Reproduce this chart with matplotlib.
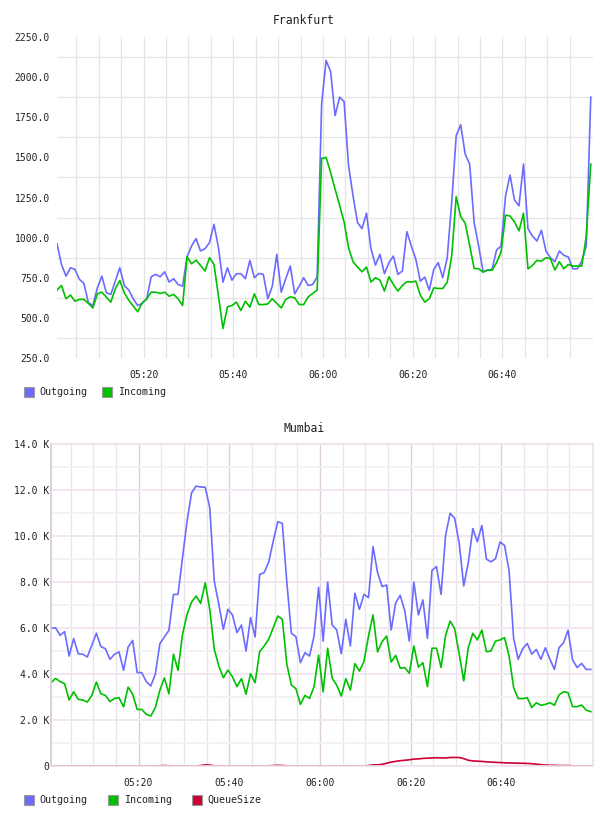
"""Frankfurt / Mumbai traffic graphs, two stacked panels (rrd-style)."""
import numpy as np
import matplotlib
matplotlib.use("Agg")
import matplotlib.pyplot as plt
from matplotlib.patches import Rectangle

# minutes after 05:00 of the first sample, one sample per minute
T0 = 0.7

frankfurt_out = [
    962, 833, 760, 812, 802, 740, 715, 594, 577, 687,
    760, 656, 646, 729, 812, 702, 673, 619, 577, 590,
    619, 756, 771, 756, 787, 723, 744, 708, 698, 881,
    948, 994, 917, 931, 969, 1083, 937, 723, 812, 735,
    775, 775, 744, 858, 750, 777, 771, 619, 698, 896,
    660, 744, 823, 650, 698, 750, 702, 708, 756, 1833,
    2104, 2035, 1760, 1875, 1848, 1448, 1260, 1094, 1056, 1152,
    931, 829, 896, 775, 844, 885, 771, 792, 1037, 948,
    865, 729, 754, 673, 802, 844, 750, 875, 1219, 1635,
    1704, 1521, 1458, 1094, 948, 787, 798, 802, 923, 948,
    1260, 1390, 1233, 1198, 1458, 1056, 1010, 979, 1046, 917,
    875, 850, 917, 890, 879, 806, 806, 854, 948, 1875,
]
frankfurt_in = [
    673, 702, 619, 642, 604, 615, 615, 590, 562, 650,
    660, 629, 598, 681, 733, 656, 610, 573, 538, 594,
    619, 660, 660, 652, 660, 635, 646, 619, 577, 881,
    837, 860, 827, 792, 875, 833, 635, 433, 569, 577,
    598, 546, 604, 567, 650, 583, 583, 587, 619, 590,
    562, 615, 631, 625, 583, 583, 631, 652, 673, 1494,
    1500, 1406, 1302, 1202, 1098, 937, 850, 817, 787, 817,
    723, 750, 735, 667, 756, 708, 667, 702, 725, 723,
    729, 642, 598, 619, 687, 683, 683, 723, 885, 1256,
    1131, 1090, 952, 808, 806, 785, 798, 796, 844, 910,
    1140, 1135, 1098, 1042, 1152, 806, 827, 858, 854, 875,
    869, 798, 850, 806, 833, 823, 823, 823, 1010, 1458,
]

# Mumbai values in thousands
mumbai_out_k = [
    5.99, 6.01, 5.68, 5.84, 4.78, 5.54, 4.88, 4.86, 4.74, 5.25,
    5.77, 5.19, 5.10, 4.64, 4.86, 4.96, 4.16, 5.17, 5.46, 4.06,
    4.06, 3.67, 3.48, 3.99, 5.32, 5.61, 5.90, 7.46, 7.46, 9.06,
    10.65, 11.88, 12.17, 12.13, 12.12, 11.23, 8.04, 7.03, 5.94, 6.81,
    6.57, 5.80, 6.13, 5.00, 6.45, 5.61, 8.33, 8.41, 8.87, 9.78,
    10.62, 10.55, 7.97, 5.77, 5.62, 4.49, 4.93, 4.78, 5.65, 7.77,
    5.43, 8.00, 6.13, 5.91, 4.88, 6.38, 5.22, 7.51, 6.81, 7.46,
    7.32, 9.54, 8.41, 7.80, 7.87, 5.91, 7.10, 7.42, 6.74, 5.43,
    8.00, 6.57, 7.22, 5.55, 8.51, 8.67, 7.46, 10.03, 10.99, 10.77,
    9.68, 7.83, 8.84, 10.32, 9.75, 10.46, 8.99, 8.88, 9.01, 9.74,
    9.59, 8.48, 5.55, 4.64, 5.10, 5.33, 4.86, 5.07, 4.64, 5.14,
    4.64, 4.20, 5.14, 5.36, 5.90, 4.61, 4.28, 4.46, 4.20, 4.20,
]
mumbai_in_k = [
    3.62, 3.81, 3.67, 3.58, 2.87, 3.23, 2.90, 2.87, 2.78, 3.07,
    3.65, 3.14, 3.07, 2.80, 2.94, 2.97, 2.57, 3.43, 3.12, 2.46,
    2.46, 2.25, 2.17, 2.54, 3.29, 3.83, 3.14, 4.86, 4.16, 5.72,
    6.59, 7.13, 7.39, 7.07, 7.97, 6.81, 5.07, 4.35, 3.84, 4.17,
    3.88, 3.45, 3.80, 3.12, 4.01, 3.62, 4.97, 5.22, 5.51, 6.01,
    6.52, 6.38, 4.42, 3.52, 3.36, 2.68, 3.07, 2.94, 3.45, 4.82,
    3.22, 5.12, 3.81, 3.51, 3.04, 3.80, 3.30, 4.45, 4.13, 4.54,
    5.65, 6.57, 4.96, 5.41, 5.65, 4.52, 4.81, 4.25, 4.28, 4.03,
    5.22, 4.30, 4.49, 3.45, 5.12, 5.12, 4.28, 5.68, 6.30, 5.97,
    4.86, 3.70, 5.14, 5.77, 5.48, 5.91, 4.97, 5.00, 5.43, 5.48,
    5.58, 4.78, 3.41, 2.93, 2.93, 2.97, 2.54, 2.75, 2.64, 2.68,
    2.75, 2.64, 3.09, 3.23, 3.19, 2.58, 2.58, 2.65, 2.43, 2.36,
]
mumbai_queue_k = [
    0, 0, 0, 0, 0, 0, 0, 0, 0, 0,
    0, 0, 0, 0, 0, 0, 0, 0, 0, 0,
    0, 0, 0, 0, 0.01, 0.02, 0.01, 0, 0, 0,
    0, 0, 0, 0.02, 0.05, 0.04, 0.01, 0, 0, 0,
    0, 0, 0, 0, 0, 0, 0, 0, 0.01, 0.02,
    0.03, 0.02, 0.01, 0, 0, 0, 0, 0, 0, 0,
    0, 0, 0, 0, 0, 0, 0, 0, 0, 0,
    0.02, 0.05, 0.05, 0.07, 0.12, 0.17, 0.20, 0.23, 0.25, 0.27,
    0.30, 0.31, 0.33, 0.34, 0.35, 0.36, 0.35, 0.35, 0.37, 0.37,
    0.37, 0.32, 0.25, 0.22, 0.21, 0.20, 0.18, 0.17, 0.16, 0.15,
    0.14, 0.13, 0.13, 0.12, 0.12, 0.11, 0.10, 0.08, 0.06, 0.04,
    0.03, 0.03, 0.02, 0.02, 0.02, 0.01, 0, 0, 0, 0,
]

time_label_min = [20, 40, 60, 80, 100]
time_labels = ["05:20", "05:40", "06:00", "06:20", "06:40"]

OUT = "#6b6bff"
IN = "#00c000"
QUEUE = "#cc0033"
TXT = "#222222"
MONO = "DejaVu Sans Mono"

W, H = 608, 816


def px_rect(x0, y0, x1, y1):
    # pixel box (top-left origin) -> figure fraction [l, b, w, h]
    return [x0 / W, 1 - y1 / H, (x1 - x0) / W, (y1 - y0) / H]


def style_time_axis(ax, t):
    ax.set_xlim(t[0], t[-1] + 0.5)
    ax.set_xticks(time_label_min)
    ax.set_xticklabels(time_labels, family=MONO, fontsize=7, color=TXT)
    ax.set_xticks(np.arange(5, 120, 5), minor=True)
    ax.tick_params(axis="both", which="both", length=0)
    ax.tick_params(axis="x", pad=9)


def legend_row(y, items):
    for x_box, x_txt, color, label in items:
        fig.patches.append(Rectangle((x_box / W, 1 - (y + 5) / H), 10 / W, 10 / H,
                                     transform=fig.transFigure, facecolor=color,
                                     edgecolor="#999999", linewidth=0.8))
        fig.text(x_txt / W, 1 - y / H, label, family=MONO, fontsize=7.2,
                 color=TXT, va="center", ha="left")


fig = plt.figure(figsize=(W / 100, H / 100), dpi=100)
fig.patch.set_facecolor("white")

# ---- Frankfurt
t_f = T0 + np.arange(len(frankfurt_out))
ax1 = fig.add_axes(px_rect(57, 37, 593, 358))
ax1.set_axisbelow(True)
for s in ax1.spines.values():
    s.set_visible(False)
ax1.plot(t_f, frankfurt_out, color=OUT, lw=1.2)
ax1.plot(t_f, frankfurt_in, color=IN, lw=1.2)
ax1.set_ylim(250, 2250)
ax1.set_yticks(np.arange(250, 2251, 250))
ax1.set_yticklabels([f"{v:.1f}" for v in np.arange(250, 2251, 250)],
                    family=MONO, fontsize=7, color=TXT)
ax1.set_yticks(np.arange(375, 2250, 250), minor=True)
style_time_axis(ax1, t_f)
ax1.tick_params(axis="y", pad=5)
ax1.grid(which="minor", color="#e4e4e4", lw=0.9)
ax1.grid(which="major", axis="x", color="#e4e4e4", lw=0.9)
fig.text(0.5, 1 - 20.5 / H, "Frankfurt", family=MONO, fontsize=8.3,
         color=TXT, ha="center", va="center")
legend_row(392, [(24, 39, OUT, "Outgoing"), (102, 118, IN, "Incoming")])

# ---- Mumbai
t_m = T0 + np.arange(len(mumbai_out_k))
ax2 = fig.add_axes(px_rect(51, 444, 593, 766))
ax2.set_axisbelow(True)
for s in ax2.spines.values():
    s.set_color("#ece0ec")
    s.set_linewidth(1.2)
ax2.spines["left"].set_color("#d9c6d9")
ax2.plot(t_m, mumbai_out_k, color=OUT, lw=1.2)
ax2.plot(t_m, mumbai_in_k, color=IN, lw=1.2)
ax2.plot(t_m, mumbai_queue_k, color=QUEUE, lw=1.2)
ax2.set_ylim(0, 14)
ax2.set_yticks(np.arange(0, 15, 2))
ax2.set_yticklabels(["0" if v == 0 else f"{v:.1f} K" for v in np.arange(0, 15, 2)],
                    family=MONO, fontsize=7, color=TXT)
ax2.set_yticks(np.arange(1, 14, 2), minor=True)
style_time_axis(ax2, t_m)
ax2.tick_params(axis="y", pad=1)
ax2.grid(which="major", axis="y", color="#f1e6f1", lw=1.4)
ax2.grid(which="minor", axis="y", color="#f2f2f2", lw=1.3)
ax2.grid(which="minor", axis="x", color="#eae4ea", lw=0.9)
ax2.grid(which="major", axis="x", color="#ddcddd", lw=1.0)
fig.text(0.5, 1 - 428.5 / H, "Mumbai", family=MONO, fontsize=8.3,
         color=TXT, ha="center", va="center")
legend_row(800, [(24, 39, OUT, "Outgoing"), (108, 124, IN, "Incoming"),
                 (192, 207, QUEUE, "QueueSize")])

fig.savefig("out.png", dpi=100)
